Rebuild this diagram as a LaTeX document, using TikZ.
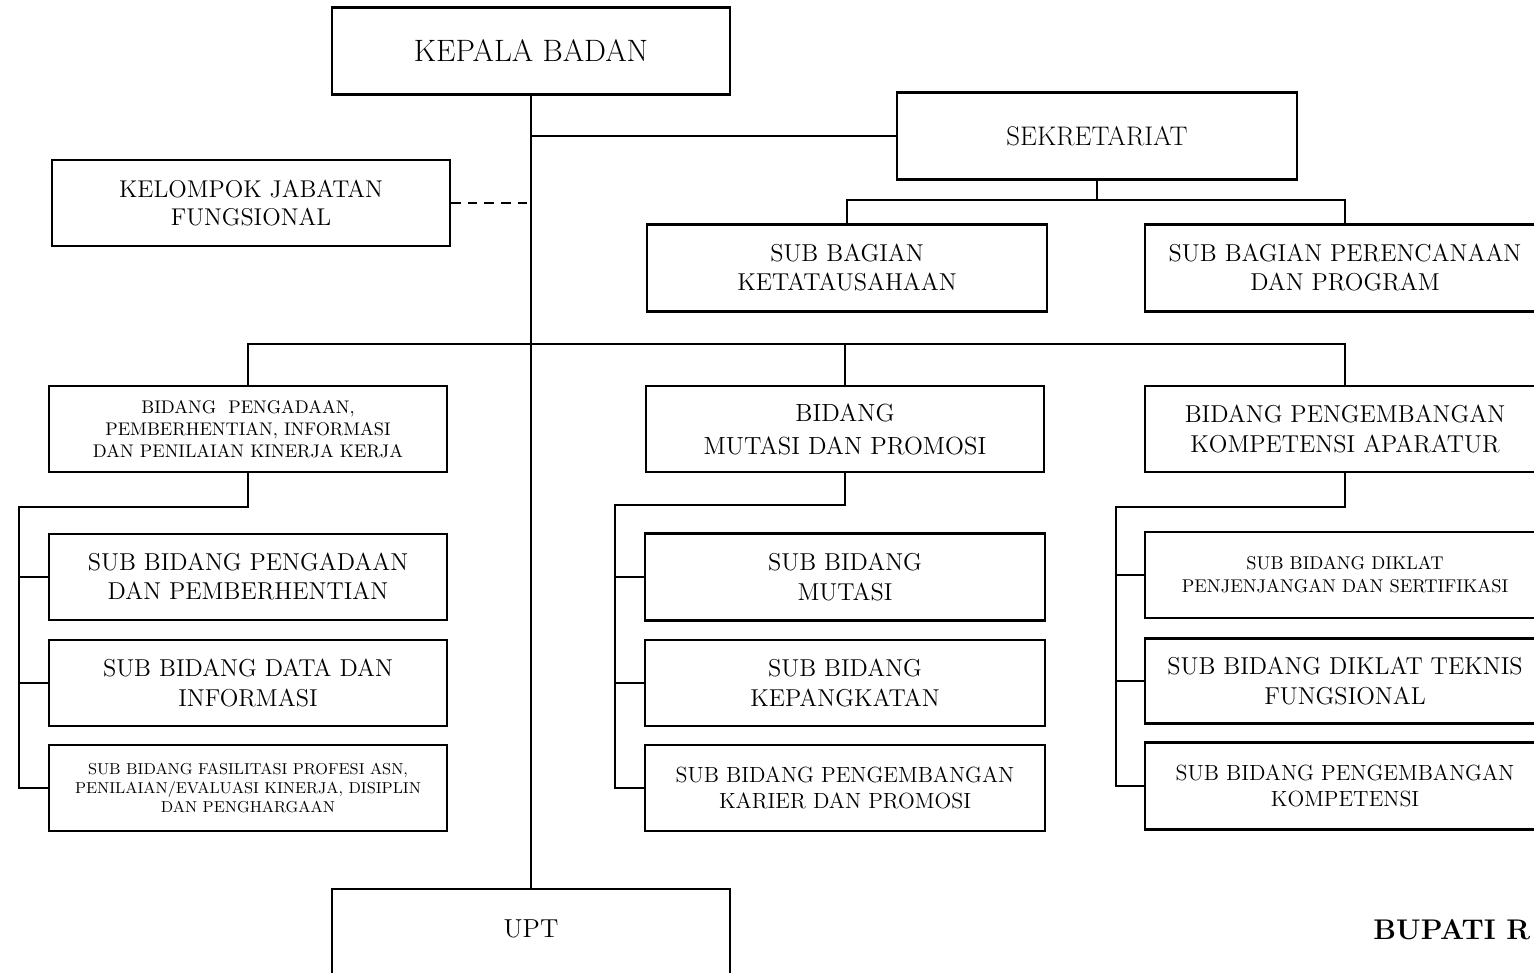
\documentclass[tikz,border=0pt]{standalone}
\usepackage{tikz}

\begin{document}
\begin{tikzpicture}[x=0.02cm, y=-0.02cm,
    box/.style={draw, line width=1.2pt, inner sep=0pt, align=center,
        minimum width=7.96cm, minimum height=1.74cm,
        font=\fontsize{13.9}{16.5}\selectfont},
    link/.style={line width=1.1pt}]
    \useasboundingbox (0,0) rectangle (1534,973);
    \clip (0,0) rectangle (1534,973);

    % top level
    \node[box, font=\fontsize{17.6}{20}\selectfont] (kepala) at (531,51) {KEPALA BADAN};
    \node[box, minimum width=8cm, font=\fontsize{15.3}{18}\selectfont] (sekretariat) at (1097,136) {SEKRETARIAT};
    \node[box, minimum height=1.72cm, font=\fontsize{13.8}{16}\selectfont] (kelompok) at (251,203) {KELOMPOK JABATAN\\FUNGSIONAL};
    \node[box, minimum width=8cm] (subtu) at (847,268) {SUB BAGIAN\\KETATAUSAHAAN};
    \node[box, minimum width=8cm] (subpp) at (1345,268) {SUB BAGIAN PERENCANAAN\\DAN PROGRAM};

    % bidang
    \node[box, minimum height=1.72cm, font=\fontsize{10.4}{12.5}\selectfont] (bpeng) at (248,429)
        {BIDANG~~PENGADAAN,\\PEMBERHENTIAN, INFORMASI\\DAN PENILAIAN KINERJA KERJA};
    \node[box, minimum height=1.72cm, font=\fontsize{14.1}{18.8}\selectfont] (bmut) at (845,429)
        {BIDANG\\MUTASI DAN PROMOSI};
    \node[box, minimum width=8cm, minimum height=1.72cm, font=\fontsize{13.9}{17.6}\selectfont] (bkomp) at (1345,429)
        {BIDANG PENGEMBANGAN\\KOMPETENSI APARATUR};

    % sub bidang
    \node[box, minimum height=1.72cm] (sada) at (248,577) {SUB BIDANG PENGADAAN\\DAN PEMBERHENTIAN};
    \node[box, minimum height=1.72cm, font=\fontsize{13.9}{17}\selectfont] (sdata) at (248,683) {SUB BIDANG DATA DAN\\INFORMASI};
    \node[box, minimum height=1.72cm, font=\fontsize{9}{10.8}\selectfont] (sfas) at (248,788)
        {SUB BIDANG FASILITASI PROFESI ASN,\\PENILAIAN/EVALUASI KINERJA, DISIPLIN\\DAN PENGHARGAAN};

    \node[box, minimum width=8cm, font=\fontsize{13.9}{17}\selectfont] (smut) at (845,577) {SUB BIDANG\\MUTASI};
    \node[box, minimum width=8cm, minimum height=1.72cm, font=\fontsize{13.9}{17}\selectfont] (spang) at (845,683) {SUB BIDANG\\KEPANGKATAN};
    \node[box, minimum width=8cm, minimum height=1.72cm, font=\fontsize{12.5}{14.8}\selectfont] (skar) at (845,788)
        {SUB BIDANG PENGEMBANGAN\\KARIER DAN PROMOSI};

    \node[box, minimum width=8cm, minimum height=1.72cm, font=\fontsize{10.5}{13}\selectfont] (sdik) at (1345,575)
        {SUB BIDANG DIKLAT\\PENJENJANGAN DAN SERTIFIKASI};
    \node[box, minimum width=8cm, minimum height=1.7cm, font=\fontsize{13.9}{17}\selectfont] (stek) at (1345,681)
        {SUB BIDANG DIKLAT TEKNIS\\FUNGSIONAL};
    \node[box, minimum width=8cm, font=\fontsize{12.5}{14.8}\selectfont] (skom) at (1345,786)
        {SUB BIDANG PENGEMBANGAN\\KOMPETENSI};

    % upt
    \node[box, minimum height=2.4cm] (upt) at (531,949) {};
    \node[font=\fontsize{14.8}{17}\selectfont] (upttext) at (531,929) {UPT};

    \node[anchor=west, inner sep=0pt, font=\fontsize{16.2}{20}\selectfont\bfseries] (bupati) at (1373,930) {BUPATI R};

    % garis komando
    \draw[link] (kepala.south) -- (upt.north);
    \draw[link] (kepala.south |- sekretariat.west) -- (sekretariat.west);
    \draw[link, dash pattern=on 5.5pt off 4pt] (kelompok.east) -- (kelompok.east -| kepala.south);

    \coordinate (sekbus) at (1097,200);
    \draw[link] (sekretariat.south) -- (sekbus);
    \draw[link] (subtu.north) -- (subtu.north |- sekbus) -- (subpp.north |- sekbus) -- (subpp.north);

    \coordinate (bidbus) at (532,344);
    \draw[link] (bpeng.north) -- (bpeng.north |- bidbus) -- (bkomp.north |- bidbus) -- (bkomp.north);
    \draw[link] (bmut.north) -- (bmut.north |- bidbus);

    \coordinate (lspine) at (19,507);
    \draw[link] (bpeng.south) |- (lspine) |- (sfas.west);
    \draw[link] (lspine |- sada.west) -- (sada.west);
    \draw[link] (lspine |- sdata.west) -- (sdata.west);

    \coordinate (mspine) at (615,505);
    \draw[link] (bmut.south) |- (mspine) |- (skar.west);
    \draw[link] (mspine |- smut.west) -- (smut.west);
    \draw[link] (mspine |- spang.west) -- (spang.west);

    \coordinate (rspine) at (1116,507);
    \draw[link] (bkomp.south) |- (rspine) |- (skom.west);
    \draw[link] (rspine |- sdik.west) -- (sdik.west);
    \draw[link] (rspine |- stek.west) -- (stek.west);
\end{tikzpicture}
\end{document}
